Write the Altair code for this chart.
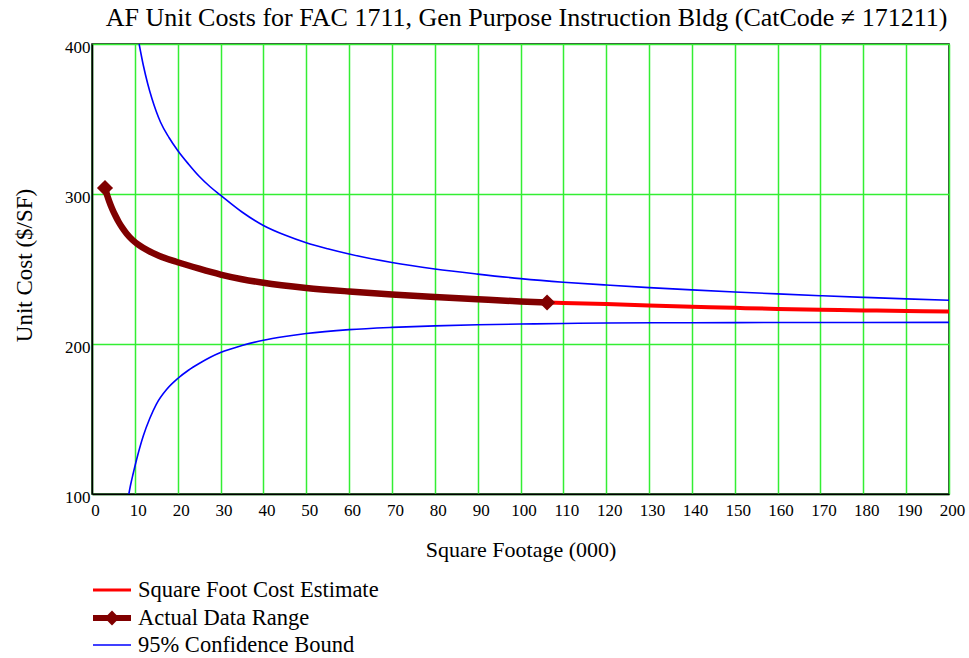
import altair as alt
import pandas as pd

# Square-foot cost estimate curve (x in thousands of SF, y in $/SF)
est_x = [3.03, 3.5, 4.0, 4.7, 5.5, 6.2, 7.0, 8.1, 9.4, 10.8, 13.1, 15.6, 20, 25, 30,
         35, 40, 50, 60, 70, 80, 90, 100, 106.2, 110, 120, 130, 140, 150, 160, 170,
         180, 190, 200]
est_y = [304, 299.5, 295.3, 290.2, 285.3, 281.5, 277.8, 273.5, 269.5, 266.2, 262.2,
         258.9, 254.5, 250.2, 246.3, 243.2, 240.8, 237.4, 235.0, 233.0, 231.3, 229.8,
         228.4, 227.7, 227.4, 226.6, 225.7, 224.9, 224.1, 223.4, 222.9, 222.4, 222.0,
         221.7]

# Span covered by the actual data
data_min, data_max = 3.03, 106.2

# 95% confidence bounds
upper_x = [11, 12, 13, 14, 15, 16, 18, 20, 22.5, 25, 27.5, 30, 35, 40, 45, 50, 55,
           60, 70, 80, 90, 100, 110, 120, 130, 140, 150, 160, 170, 180, 190, 200]
upper_y = [400, 385.5, 373.5, 363.5, 355, 347.8, 337.5, 329, 320, 311.8, 305, 299.2,
           288, 279, 272.6, 267.5, 263.5, 260.0, 254.3, 250, 246.6, 243.6, 241.2,
           239.3, 237.6, 236.1, 234.7, 233.4, 232.2, 231.1, 230.1, 229.2]
lower_x = [8.6, 9.0, 9.6, 10.5, 12, 13.5, 15, 17.5, 20, 22.5, 25, 27.5, 30, 35, 40,
           45, 50, 60, 70, 80, 90, 100, 110, 120, 140, 160, 200]
lower_y = [100, 106, 113.5, 124, 139, 150.5, 159.8, 170, 177, 182.5, 187, 191, 194.3,
           199, 202.5, 205, 207, 209.6, 211.1, 212.1, 212.8, 213.3, 213.7, 214, 214.2,
           214.3, 214.4]

x_ticks = list(range(0, 201, 10))
y_ticks = [100, 200, 300, 400]

legend_labels = ["Square Foot Cost Estimate", "Actual Data Range", "95% Confidence Bound"]

FONT = "Liberation Serif"

est = pd.DataFrame({"x": est_x, "y": est_y})
actual = est[(est.x >= data_min) & (est.x <= data_max)]
ends = actual.iloc[[0, -1]]
upper = pd.DataFrame({"x": upper_x, "y": upper_y})
lower = pd.DataFrame({"x": lower_x, "y": lower_y})

xs = alt.Scale(domain=[0, 200], nice=False, zero=False)
ys = alt.Scale(domain=[100, 400], nice=False, zero=False)

x_enc = alt.X("x:Q", scale=xs, axis=alt.Axis(
    values=x_ticks, title="Square Footage (000)", ticks=False, labelPadding=8,
    labelOffset=3, titleY=55, titleBaseline="middle", titleFontSize=22,
    labelFlush=False))
y_enc = alt.Y("y:Q", scale=ys, axis=alt.Axis(
    values=y_ticks, title="Unit Cost ($/SF)", ticks=False, labelPadding=2,
    labelOffset=3, titleX=-68, titleY=221, titleBaseline="middle", titleAlign="center",
    titleFontSize=23, labelFlush=False))

base_line = dict(interpolate="monotone", clip=True)

est_line = alt.Chart(est).mark_line(color="#ff0000", strokeWidth=4, **base_line).encode(
    x=x_enc, y=y_enc)
upper_line = alt.Chart(upper).mark_line(color="#0000ff", strokeWidth=1.6, **base_line).encode(
    x="x:Q", y="y:Q")
lower_line = alt.Chart(lower).mark_line(color="#0000ff", strokeWidth=1.6, **base_line).encode(
    x="x:Q", y="y:Q")
actual_line = alt.Chart(actual).mark_line(color="#800000", strokeWidth=6.5, **base_line).encode(
    x="x:Q", y="y:Q")
actual_pts = alt.Chart(ends).mark_point(shape="diamond", filled=True, color="#800000",
                                        size=260, opacity=1).encode(x="x:Q", y="y:Q")

# Legend block below the plot
leg_y = [546, 574, 601]
leg_colors = ["#ff0000", "#800000", "#0000ff"]
leg_widths = [3, 6, 1.5]
legend_layers = []
for lab, yy, col, w in zip(legend_labels, leg_y, leg_colors, leg_widths):
    legend_layers.append(
        alt.Chart().mark_rule(color=col, strokeWidth=w).encode(
            x=alt.value(1), x2=alt.value(39), y=alt.value(yy)))
    legend_layers.append(
        alt.Chart().mark_text(align="left", baseline="middle", font=FONT, fontSize=22.5,
                              color="black").encode(
            x=alt.value(46), y=alt.value(yy), text=alt.value(lab)))
legend_layers.append(
    alt.Chart().mark_point(shape="diamond", filled=True, color="#800000", size=220,
                           opacity=1).encode(x=alt.value(20), y=alt.value(574)))

chart = alt.layer(
    est_line, upper_line, lower_line, actual_line, actual_pts, *legend_layers
).properties(
    width=857, height=450,
    title=alt.TitleParams(
        "AF Unit Costs for FAC 1711, Gen Purpose Instruction Bldg (CatCode \u2260 171211)",
        font=FONT, fontSize=26, fontWeight="normal", color="black",
        anchor="middle", dx=6, offset=7),
    autosize=alt.AutoSizeParams(type="none"),
    padding={"left": 92, "top": 44, "right": 20, "bottom": 164},
).configure(
    font=FONT, background="white"
).configure_view(
    stroke="black", strokeWidth=1.5
).configure_axis(
    labelFont=FONT, titleFont=FONT, labelFontSize=17, titleFontSize=22,
    titleFontWeight="normal", labelColor="black", titleColor="black",
    domainColor="black", domainWidth=1.5, gridColor="#33ee33", gridWidth=1.5,
    gridOpacity=1
)

chart.save("out.html", embed_options={"renderer": "svg", "actions": False})
